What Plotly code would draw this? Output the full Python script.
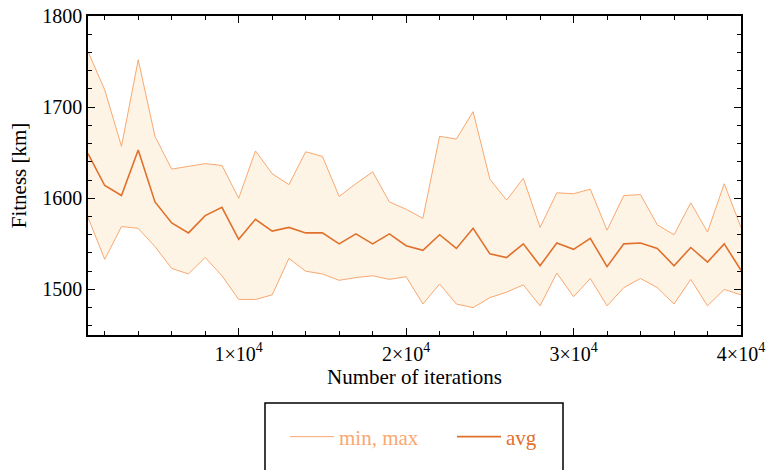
import plotly.graph_objects as go

iterations = [1000 * (i + 1) for i in range(40)]
fit_max = [1761, 1719, 1657, 1752, 1668, 1632, 1635, 1638, 1636, 1600,
           1652, 1627, 1615, 1651, 1646, 1602, 1616, 1629, 1596, 1588,
           1578, 1668, 1665, 1695, 1621, 1598, 1622, 1568, 1606, 1605,
           1610, 1565, 1603, 1604, 1571, 1560, 1595, 1563, 1616, 1568]
fit_avg = [1649, 1614, 1603, 1653, 1596, 1573, 1562, 1581, 1590, 1555,
           1577, 1564, 1568, 1562, 1562, 1550, 1561, 1550, 1561, 1548,
           1543, 1560, 1545, 1567, 1539, 1535, 1550, 1526, 1551, 1544,
           1556, 1525, 1550, 1551, 1545, 1526, 1546, 1530, 1550, 1521]
fit_min = [1579, 1533, 1569, 1567, 1547, 1523, 1517, 1535, 1515, 1489,
           1489, 1494, 1534, 1520, 1517, 1510, 1513, 1515, 1511, 1514,
           1484, 1506, 1484, 1480, 1491, 1497, 1505, 1482, 1518, 1492,
           1512, 1482, 1502, 1512, 1502, 1484, 1511, 1482, 1500, 1494]
xtick_vals = [10000, 20000, 30000, 40000]
xtick_text = ["1×10<sup>4</sup>", "2×10<sup>4</sup>", "3×10<sup>4</sup>", "4×10<sup>4</sup>"]

LIGHT = "#F9A870"
DARK = "#E0702A"
FILL = "rgba(252,236,214,0.6)"
FONT = "Liberation Serif"
FS = 20
FT = 21

fig = go.Figure()
fig.add_trace(go.Scatter(x=iterations, y=fit_min, mode="lines",
                         line=dict(color=LIGHT, width=1),
                         name=f"<span style='color:{LIGHT}'>min, max</span>",
                         legendgroup="mm"))
fig.add_trace(go.Scatter(x=iterations, y=fit_max, mode="lines",
                         line=dict(color=LIGHT, width=1), fill="tonexty",
                         fillcolor=FILL, showlegend=False, legendgroup="mm"))
fig.add_trace(go.Scatter(x=iterations, y=fit_avg, mode="lines",
                         line=dict(color=DARK, width=1.6),
                         name=f"<span style='color:{DARK}'>avg</span>"))

axis_common = dict(showline=True, linecolor="black", linewidth=1.5, mirror="ticks",
                   ticks="inside", ticklen=7, tickwidth=1.2, tickcolor="black",
                   showgrid=False, zeroline=False, automargin=False,
                   tickfont=dict(family=FONT, size=FS, color="black"))

fig.update_xaxes(range=[1000, 40000], tickvals=xtick_vals, ticktext=xtick_text,
                 minor=dict(dtick=2000, tick0=0, ticks="inside", ticklen=4,
                            tickwidth=1, tickcolor="black"),
                 title=dict(text="Number of iterations",
                            font=dict(family=FONT, size=FT, color="black"), standoff=3),
                 **axis_common)
fig.update_yaxes(range=[1450, 1800], dtick=100, tick0=1500,
                 minor=dict(dtick=20, ticks="inside", ticklen=4,
                            tickwidth=1, tickcolor="black"),
                 title=dict(text="Fitness [km]",
                            font=dict(family=FONT, size=FT, color="black"), standoff=10),
                 **axis_common)

fig.add_shape(type="rect", xref="paper", yref="paper",
              x0=(265 - 88) / 653, x1=(563 - 88) / 653,
              y0=(335 - 403) / 319, y1=(335 - 475) / 319,
              line=dict(color="black", width=1.5), fillcolor="rgba(0,0,0,0)")

fig.update_layout(width=769, height=470,
                  margin=dict(l=88, r=28, t=16, b=135),
                  plot_bgcolor="white", paper_bgcolor="white",
                  legend=dict(orientation="h", x=(291 - 88 - 6) / 653, xanchor="left",
                              y=(335 - 437) / 319, yanchor="middle",
                              font=dict(family=FONT, size=FT),
                              bgcolor="rgba(0,0,0,0)", itemwidth=44,
                              entrywidth=108, traceorder="normal"))

fig.write_html("out.html")
